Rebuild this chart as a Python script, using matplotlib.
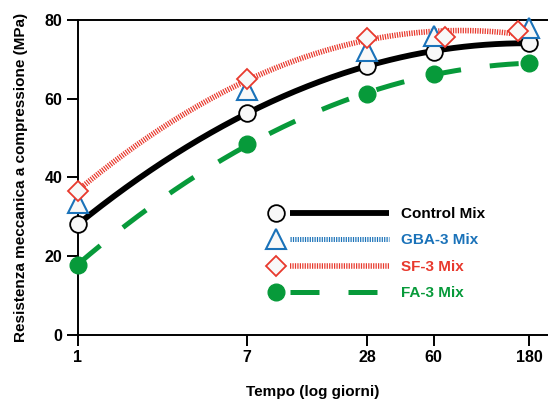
import numpy as np
import matplotlib
matplotlib.use('Agg')
import matplotlib.pyplot as plt
from matplotlib.lines import Line2D
from matplotlib.legend_handler import HandlerBase

# ---- data ----
days = [1, 7, 28, 60, 180]
sf_days = [1, 7, 28, 68, 158]
control = [28.1, 56.4, 68.4, 71.9, 74.2]
gba = [33.6, 62.2, 72.2, 75.9, 77.9]
sf = [36.6, 65.0, 75.5, 75.7, 77.2]
fa = [17.9, 48.5, 61.1, 66.2, 69.1]
labels = ['Control Mix', 'GBA-3 Mix', 'SF-3 Mix', 'FA-3 Mix']
yticks = [0, 20, 40, 60, 80]
xticks = [1, 7, 28, 60, 180]

BLACK = '#000000'
BLUE = '#1a72b9'
RED = '#e8392d'
GREEN = '#079a3a'
FILL = '#f8f8f8'

plt.rcParams['font.family'] = ['Liberation Sans', 'DejaVu Sans']
plt.rcParams['font.weight'] = 'bold'

fig = plt.figure(figsize=(5.48, 4.03), dpi=100)
ax = fig.add_axes([78/548, 1-335/403, 470/548, 315/403])
ax.set_xscale('log')
ax.set_xlim(1, 10**(470/200))
ax.set_ylim(0, 80)


def fit(xs, ys):
    lx = np.log10(xs)
    c = np.polyfit(lx, ys, 2)
    xx = np.logspace(lx[0], lx[-1], 300)
    return xx, np.polyval(c, np.log10(xx))

series = [
    dict(x=days, y=control, color=BLACK, marker='o', ms=12, mfc=FILL, mec=BLACK, mew=1.3,
         lw=4.2, ls='-', lz=2, mz=6, curve=True),
    dict(x=days, y=gba, color=BLUE, marker='^', ms=14, mfc=FILL, mec=BLUE, mew=1.5,
         lw=3.6, ls=(0, (0.24, 0.24)), lz=1, mz=7, curve=False),
    dict(x=sf_days, y=sf, color=RED, marker='D', ms=10, mfc=FILL, mec=RED, mew=1.3,
         lw=4.0, ls=(0, (0.22, 0.22)), lz=3, mz=8, curve=True),
    dict(x=days, y=fa, color=GREEN, marker='o', ms=12, mfc=GREEN, mec=GREEN, mew=1.0,
         lw=3.6, ls=(0, (5.8, 5.8)), lz=2, mz=5, curve=True),
]

for s in series:
    if s['curve']:
        xx, yy = fit(s['x'], s['y'])
        ax.plot(xx, yy, color=s['color'], lw=s['lw'], linestyle=s['ls'], zorder=s['lz'],
                clip_on=False, solid_capstyle='butt', dash_capstyle='butt')
    ax.plot(s['x'], s['y'], linestyle='none', marker=s['marker'], ms=s['ms'],
            mfc=s['mfc'], mec=s['mec'], mew=s['mew'], zorder=s['mz'], clip_on=False)


class Entry:
    def __init__(self, st):
        self.st = st


class MarkerLineHandler(HandlerBase):
    def create_artists(self, legend, orig_handle, xdescent, ydescent, width, height,
                       fontsize, trans):
        s = orig_handle.st
        y = height / 2 - ydescent
        x0 = -xdescent
        mk = Line2D([x0 + 0.07 * width], [y], linestyle='none', marker=s['marker'],
                    ms=s['ms'], mfc=s['mfc'], mec=s['mec'], mew=s['mew'], transform=trans)
        ln = Line2D([x0 + 0.19 * width, x0 + width], [y, y], color=s['color'],
                    lw=s['lw'], linestyle=s['ls'], transform=trans,
                    solid_capstyle='butt', dash_capstyle='butt')
        return [ln, mk]

handles = [Entry(s) for s in series]
leg = fig.legend(handles, labels, handler_map={Entry: MarkerLineHandler()},
                 loc='center left', bbox_to_anchor=(267/548, 1-253/403),
                 frameon=False, fontsize=11, handlelength=8.0, handletextpad=0.8,
                 labelspacing=0.75, borderpad=0, borderaxespad=0, handleheight=1.0)
for t, s in zip(leg.get_texts(), series):
    t.set_color(s['color'])
    t.set_fontweight('bold')

ax.set_xticks(xticks)
ax.set_xticklabels([str(v) for v in xticks])
ax.xaxis.set_minor_locator(matplotlib.ticker.NullLocator())
ax.set_yticks(yticks)
ax.tick_params(axis='both', direction='out', length=8, width=1.4, labelsize=11.5, pad=3)
for lab in ax.get_xticklabels() + ax.get_yticklabels():
    lab.set_fontweight('bold')

for side in ['left', 'bottom', 'top']:
    ax.spines[side].set_linewidth(1.4)
ax.spines['right'].set_visible(False)

ax.set_xlabel('Tempo (log giorni)', fontsize=11, fontweight='bold', labelpad=14)
ax.set_ylabel('Resistenza meccanica a compressione (MPa)', fontsize=11,
              fontweight='bold', labelpad=12)

fig.savefig('out.png', dpi=100)
